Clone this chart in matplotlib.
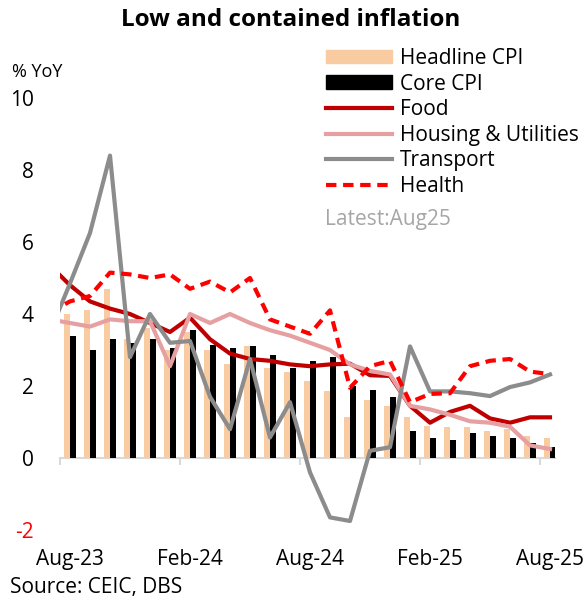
import matplotlib
matplotlib.use("Agg")
import matplotlib.pyplot as plt
import numpy as np
from matplotlib.patches import Patch
from matplotlib.lines import Line2D

plt.rcParams['font.family'] = ['Open Sans', 'DejaVu Sans']

# monthly, Aug-23 .. Aug-25 (bars)
headline = [4.0, 4.1, 4.7, 3.3, 3.6, 3.0, 3.5, 3.0, 2.6, 3.1, 2.5, 2.4, 2.15,
            1.85, 1.15, 1.6, 1.45, 1.15, 0.9, 0.85, 0.85, 0.75, 0.8, 0.6, 0.55]
core = [3.4, 3.0, 3.3, 3.2, 3.3, 3.05, 3.55, 3.15, 3.05, 3.1, 2.85, 2.5, 2.7,
        2.8, 2.0, 1.9, 1.7, 0.75, 0.55, 0.5, 0.7, 0.6, 0.55, 0.43, 0.3]

# lines, Jul-23 .. Aug-25 (first point sits left of the plot edge)
food = [5.35, 4.8, 4.35, 4.15, 4.0, 3.75, 3.5, 3.9, 3.3, 2.9, 2.75, 2.7, 2.6,
        2.55, 2.6, 2.62, 2.3, 2.28, 1.45, 0.98, 1.28, 1.45, 1.1, 0.98, 1.13, 1.13]
housing = [3.85, 3.75, 3.65, 3.85, 3.8, 3.8, 2.55, 4.0, 3.75, 4.0, 3.75, 3.55, 3.4,
           3.2, 3.0, 2.6, 2.42, 2.32, 1.45, 1.35, 1.2, 1.02, 0.98, 0.87, 0.35, 0.25]
transport = [3.5, 4.85, 6.25, 8.4, 2.8, 4.0, 3.2, 3.25, 1.7, 0.8, 2.75, 0.57, 1.55,
             -0.4, -1.65, -1.75, 0.2, 0.3, 3.1, 1.85, 1.85, 1.8, 1.72, 1.97, 2.1, 2.32]
health = [4.05, 4.35, 4.5, 5.15, 5.1, 5.0, 5.1, 4.7, 4.9, 4.6, 5.0, 3.85, 3.65,
          3.45, 4.1, 1.95, 2.55, 2.7, 1.55, 1.78, 1.8, 2.55, 2.7, 2.75, 2.4, 2.33]

tick_labels = ["Aug-23", "Feb-24", "Aug-24", "Feb-25", "Aug-25"]

x = np.arange(len(headline))
xl = np.arange(len(food)) - 1

fig = plt.figure(figsize=(5.84, 6.02), dpi=100)
ax = fig.add_axes([60/584, 72/602, 495/584, 432/602])

w = 0.3
ax.bar(x - w/2, headline, w, color="#F8CBA0", zorder=2)
ax.bar(x + w/2, core, w, color="black", zorder=2)

lw = 3
dash = (0, (2.5, 1.6))
ax.plot(xl, food, color="#C00000", lw=lw, solid_joinstyle="round", zorder=3)
ax.plot(xl, housing, color="#E6A0A2", lw=lw, solid_joinstyle="round", zorder=3)
ax.plot(xl, transport, color="#8C8C8C", lw=lw, solid_joinstyle="round", zorder=3)
ax.plot(xl, health, color="#FF0000", lw=lw, ls=dash, zorder=3)

ax.set_xlim(-0.5, 24.25)
ax.set_ylim(-2, 10)

for s in ["top", "right", "left"]:
    ax.spines[s].set_visible(False)
ax.spines["bottom"].set_position(("data", 0))
ax.spines["bottom"].set_color("#D9D9D9")
ax.spines["bottom"].set_linewidth(1.5)
ax.spines["bottom"].set_zorder(1)

fs = 15
ax.set_xticks(np.arange(-0.5, 24, 6))
ax.set_xticklabels([])
ax.tick_params(axis="x", length=5, width=1.5, color="#D9D9D9")
for i, lab in zip(range(0, 25, 6), tick_labels):
    ax.text(i, -0.069, lab, transform=ax.get_xaxis_transform(),
            ha="center", va="center", fontsize=fs)

ax.set_yticks(range(-2, 11, 2))
ax.set_yticklabels([str(v) for v in range(-2, 11, 2)], fontsize=fs)
ax.tick_params(axis="y", length=0, pad=19)
ax.get_yticklabels()[0].set_color("red")

fig.text(291/584, 1 - 20/602, "Low and contained inflation", ha="center",
         va="center", fontsize=17.5, fontweight="bold")
fig.text(12/584, 1 - 72/602, "% YoY", ha="left", va="center", fontsize=13)
fig.text(10/584, 1 - 588/602, "Source: CEIC, DBS", ha="left", va="center", fontsize=15)
fig.text(325/584, 1 - 219/602, "Latest:Aug25", ha="left", va="center",
         fontsize=fs, color="#A6A6A6")

handles = [
    Patch(color="#F8CBA0"),
    Patch(color="black"),
    Line2D([], [], color="#C00000", lw=lw),
    Line2D([], [], color="#E6A0A2", lw=lw),
    Line2D([], [], color="#8C8C8C", lw=lw),
    Line2D([], [], color="#FF0000", lw=lw, ls=dash),
]
labels = ["Headline CPI", "Core CPI", "Food", "Housing & Utilities", "Transport", "Health"]
fig.legend(handles, labels, loc="upper left", bbox_to_anchor=(326/584, 1 - 48/602),
           frameon=False, fontsize=fs, handlelength=3.17, handleheight=0.63,
           handletextpad=0.38, labelspacing=0.22, borderpad=0, borderaxespad=0)

fig.savefig("out.png", dpi=100)
